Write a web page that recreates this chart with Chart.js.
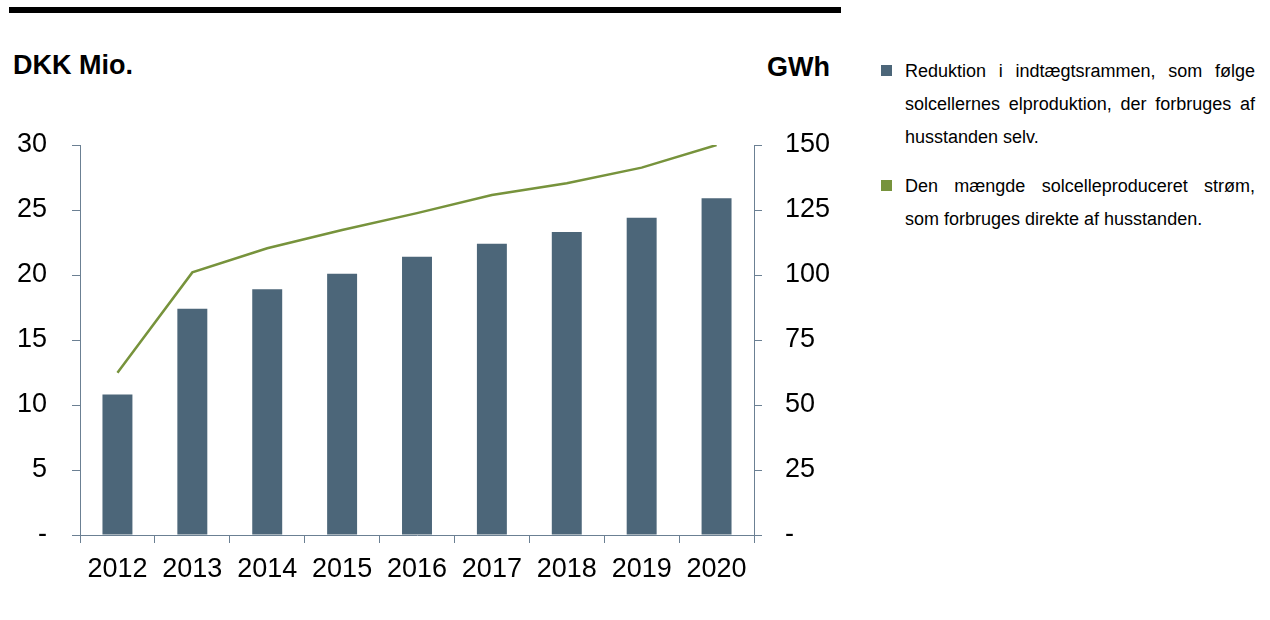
<!DOCTYPE html>
<html lang="da">
<head>
<meta charset="utf-8">
<title>Solcellernes elproduktion</title>
<script src="https://cdn.jsdelivr.net/npm/chart.js@4/dist/chart.umd.min.js"></script>
<style>
  html, body { margin: 0; padding: 0; background: #fff; }
  body { width: 1270px; height: 620px; position: relative; overflow: hidden;
         font-family: "Liberation Sans", Arial, sans-serif; color: #000; }
  #rule { position: absolute; left: 9px; top: 7px; width: 832px; height: 6px; background: #000; }
  .unit { position: absolute; font-weight: bold; font-size: 27px; line-height: 27px; white-space: nowrap; }
  #unitLeft { left: 13px; top: 52px; }
  #unitRight { left: 767px; top: 54px; }
  #chartWrap { position: absolute; left: 0; top: 0; width: 860px; height: 620px; }
  #legend { position: absolute; left: 881px; top: 55px; width: 374px; }
  .item { position: relative; padding-left: 24px; margin-bottom: 16px; }
  .swatch { position: absolute; left: 0; top: 10px; width: 11px; height: 11px; }
  .line { font-size: 18px; line-height: 33px; white-space: nowrap; }
  .line.full { text-align: justify; text-align-last: justify; }
</style>
</head>
<body>
<div id="rule"></div>
<div class="unit" id="unitLeft">DKK Mio.</div>
<div class="unit" id="unitRight">GWh</div>
<div id="chartWrap"><canvas id="chart" width="860" height="620"></canvas></div>
<div id="legend"></div>

<script>
// Years on the category axis
const years = ['2012', '2013', '2014', '2015', '2016', '2017', '2018', '2019', '2020'];

// Reduction of the revenue cap, DKK million (bars, left axis)
const reduktion = [10.8, 17.4, 18.9, 20.1, 21.4, 22.4, 23.3, 24.4, 25.9];

// Solar power consumed directly by the household, GWh (line, right axis)
const egetForbrug = [62.4, 101.0, 110.3, 117.3, 123.8, 130.8, 135.3, 141.3, 150.0];

// Axis tick values
const dkkTicks = [0, 5, 10, 15, 20, 25, 30];
const gwhTicks = [0, 25, 50, 75, 100, 125, 150];

// Legend text, one entry per line of the wrapped label
const reduktionLabel = ['Reduktion i indtægtsrammen, som følge',
                        'solcellernes elproduktion, der forbruges af',
                        'husstanden selv.'];
const forbrugLabel = ['Den mængde solcelleproduceret strøm,',
                      'som forbruges direkte af husstanden.'];

const barColor = '#4C6679';
const lineColor = '#77933C';
const axisColor = '#6B8093';
const fontFamily = '"Liberation Sans", Arial, sans-serif';

// Build the justified legend on the right
function addLegendItem(color, lines) {
  const item = document.createElement('div');
  item.className = 'item';
  const sw = document.createElement('div');
  sw.className = 'swatch';
  sw.style.background = color;
  item.appendChild(sw);
  lines.forEach((txt, i) => {
    const l = document.createElement('div');
    l.className = 'line' + (i < lines.length - 1 ? ' full' : '');
    l.textContent = txt;
    item.appendChild(l);
  });
  document.getElementById('legend').appendChild(item);
}
addLegendItem(barColor, reduktionLabel);
addLegendItem(lineColor, forbrugLabel);

const zeroDash = v => (v === 0 ? '-' : String(v));

new Chart(document.getElementById('chart'), {
  type: 'bar',
  data: {
    labels: years,
    datasets: [
      {
        type: 'line',
        label: forbrugLabel.join(' '),
        data: egetForbrug,
        yAxisID: 'y1',
        borderColor: lineColor,
        borderWidth: 2.5,
        pointRadius: 0,
        tension: 0,
        fill: false,
        order: 0
      },
      {
        type: 'bar',
        label: reduktionLabel.join(' '),
        data: reduktion,
        yAxisID: 'y',
        backgroundColor: barColor,
        borderWidth: 0,
        barPercentage: 0.4,
        categoryPercentage: 1.0,
        order: 1
      }
    ]
  },
  options: {
    responsive: false,
    devicePixelRatio: 1,
    animation: false,
    layout: { padding: { top: 145, left: 0, right: 0, bottom: 0 } },
    plugins: { legend: { display: false }, tooltip: { enabled: false } },
    scales: {
      x: {
        offset: true,
        grid: { display: true, drawOnChartArea: false, drawTicks: true, tickLength: 8, color: axisColor, offset: true },
        border: { display: true, color: axisColor, width: 1 },
        ticks: { color: '#000', font: { family: fontFamily, size: 27 }, padding: 10, maxRotation: 0, autoSkip: false },
        afterFit: s => { s.height = 85; }
      },
      y: {
        position: 'left',
        min: 0, max: 30,
        afterBuildTicks: s => { s.ticks = dkkTicks.map(v => ({ value: v })); },
        grid: { display: true, drawOnChartArea: false, drawTicks: true, tickLength: 8, color: axisColor },
        border: { display: true, color: axisColor, width: 1 },
        ticks: { color: '#000', font: { family: fontFamily, size: 27 }, padding: 25, callback: zeroDash },
        afterFit: s => { s.width = 80; }
      },
      y1: {
        position: 'right',
        min: 0, max: 150,
        afterBuildTicks: s => { s.ticks = gwhTicks.map(v => ({ value: v })); },
        grid: { display: true, drawOnChartArea: false, drawTicks: true, tickLength: 8, color: axisColor },
        border: { display: true, color: axisColor, width: 1 },
        ticks: { color: '#000', font: { family: fontFamily, size: 27 }, padding: 23, callback: zeroDash },
        afterFit: s => { s.width = 106; }
      }
    }
  }
});
</script>
</body>
</html>
